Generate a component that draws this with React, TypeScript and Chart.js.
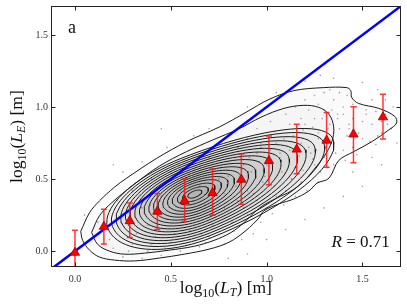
import React, { useEffect, useRef } from 'react';
import { Chart, registerables } from 'chart.js';

Chart.register(...registerables);

// axis setup
const xTickValues = [0, 0.5, 1.0, 1.5];
const yTickValues = [0, 0.5, 1.0, 1.5];
const xLimits = [-0.125, 1.7];
const yLimits = [-0.11, 1.7];

// binned means with error bars
const binX = [0.0, 0.151, 0.286, 0.43, 0.572, 0.718, 0.868, 1.012, 1.157, 1.313, 1.453, 1.607];
const binY = [-0.01, 0.17, 0.21, 0.275, 0.35, 0.405, 0.497, 0.627, 0.706, 0.768, 0.811, 0.93];
const binHigh = [0.145, 0.29, 0.335, 0.40, 0.50, 0.57, 0.675, 0.80, 0.88, 0.962, 1.003, 1.089];
const binLow = [-0.16, 0.05, 0.095, 0.15, 0.205, 0.25, 0.325, 0.46, 0.538, 0.583, 0.613, 0.779];

// 1:1 line
const identityLine = [-0.3, 1.9];

// density contours: inner levels as egg-shaped ellipses (data units)
const contourCenter = [0.6225, 0.3964];
const contourMajorAxis = [0.0482, 0.0256];
const contourMinorAxis = [0.0195, -0.0634];
const contourBack = [0.7, 1.25, 1.8, 2.35, 2.85, 3.35, 3.85, 4.35, 4.85, 5.35, 5.85, 6.35, 6.85, 7.35, 7.85, 8.35, 8.85, 9.35];
const contourFront = [0.8, 1.5, 2.2, 2.9, 3.6, 4.3, 5.0, 5.8, 6.6, 7.5, 8.4, 9.3, 10.2, 11.1, 12.0, 13.0, 14.0, 15.0];
const contourWidthDown = [0.35, 0.65, 0.95, 1.25, 1.5, 1.75, 2.0, 2.25, 2.5, 2.75, 3.0, 3.25, 3.5, 3.75, 4.0, 4.25, 4.5, 4.75];
const contourWidthUp = [0.3, 0.55, 0.8, 1.05, 1.25, 1.45, 1.65, 1.85, 2.05, 2.25, 2.45, 2.65, 2.85, 3.05, 3.25, 3.45, 3.65, 3.85];

// second-outermost contour
const secondContourX = [0.087, 0.128, 0.191, 0.310, 0.440, 0.581, 0.716, 0.857, 0.971, 1.091, 1.194, 1.272, 1.325, 1.350, 1.340, 1.299, 1.247, 1.194, 1.127, 1.054, 0.986, 0.934, 0.882, 0.815, 0.726, 0.622, 0.492, 0.362, 0.258, 0.180, 0.118, 0.087];
const secondContourY = [0.130, 0.246, 0.335, 0.465, 0.590, 0.690, 0.770, 0.850, 0.930, 0.991, 1.012, 0.998, 0.950, 0.861, 0.759, 0.656, 0.567, 0.485, 0.417, 0.369, 0.321, 0.267, 0.198, 0.130, 0.075, 0.034, 0.007, -0.014, -0.021, 0.000, 0.048, 0.130];

// outermost contour
const outerContourX = [0.030, 0.076, 0.128, 0.206, 0.269, 0.425, 0.581, 0.752, 0.893, 1.012, 1.142, 1.298, 1.418, 1.439, 1.444, 1.480, 1.585, 1.668, 1.678, 1.637, 1.548, 1.454, 1.376, 1.325, 1.263, 1.220, 1.142, 1.064, 0.986, 0.961, 0.893, 0.804, 0.700, 0.570, 0.440, 0.310, 0.206, 0.128, 0.076, 0.040, 0.030];
const outerContourY = [0.137, 0.267, 0.349, 0.444, 0.506, 0.643, 0.759, 0.861, 0.964, 1.053, 1.114, 1.135, 1.135, 1.114, 1.066, 1.025, 0.991, 0.936, 0.889, 0.841, 0.759, 0.690, 0.629, 0.506, 0.472, 0.417, 0.362, 0.328, 0.280, 0.232, 0.144, 0.062, 0.014, -0.021, -0.048, -0.068, -0.062, -0.041, 0.007, 0.075, 0.137];

// individual sample points (sparse subset)
const sampleX = [0.35, 0.25, 0.48, 0.62, 0.70, 0.90, 1.05, 1.20, 1.28, 1.35, 1.50, 1.58, 1.62, 1.66, 1.55, 1.45,
  1.10, 1.15, 1.20, 1.25, 1.30, 1.35, 1.30, 1.25, 1.20, 1.40, 1.45, 1.50, 1.55, 1.60, 1.62, 1.65, 1.58, 1.50, 1.42, 1.38,
  1.35, 1.40, 1.45, 1.30, 1.35, 1.28, 1.22, 1.25, 1.18, 1.10, 1.05, 1.15, 1.08, 1.12, 1.05, 1.00, 0.95, 1.02, 0.90, 0.85,
  0.95, 1.00, 0.92, 0.98, 0.90, 0.85, 0.95, 1.00, 0.90, 0.82, 0.75, 0.70, 0.78, 0.65, 0.55, 0.45, 0.35, 0.25, 0.60, 0.50,
  0.40, 0.30, 0.20, 0.15, 0.10, 0.12, 0.18, 0.22, 0.30, 0.40, 0.50, 0.60, 0.70, 0.80, 0.75, 0.65, 0.55, 0.45, 0.35, 0.28,
  0.38, 0.48, 0.58, 0.68, 0.78, 0.72, 0.62, 0.52, 0.42, 0.32, 0.00, 0.05, 0.20, 0.45, 1.70, 1.68, 1.60, 1.50, 1.40, 1.30,
  1.20, 1.10, 1.00, 0.90, 0.80, 1.45, 1.55, 1.33, 1.43, 1.52, 1.18, 1.27, 0.88, 0.97, 1.07, 1.13, 1.23, 1.37, 1.47, 1.57,
  1.12, 1.18, 1.22, 1.27, 1.33, 1.38, 1.42, 1.47, 1.52, 1.57, 1.63, 1.60, 1.54, 1.48, 1.43, 1.37, 1.32, 1.27, 1.22, 1.17,
  1.12, 1.07, 1.02, 0.97, 1.04, 1.09, 1.14, 1.19, 1.24, 1.29, 1.34, 1.40, 1.26, 1.31, 1.36, 1.41, 1.32, 1.27, 1.21, 1.15,
  1.09, 1.03, 0.97, 0.93, 0.87, 0.83, 0.88, 0.93, 0.99, 1.04, 1.13, 1.19, 1.24, 0.96, 0.91, 0.86, 0.80, 0.76, 0.84, 0.78,
  0.72, 0.66, 0.60, 0.68, 0.58, 0.47, 0.38, 0.28, 0.18, 0.14];
const sampleY = [0.62, 0.55, 0.72, 0.80, 0.85, 1.00, 1.10, 1.18, 1.22, 1.20, 1.17, 1.12, 1.05, 1.00, 1.05, 1.02,
  0.95, 1.00, 1.05, 1.08, 1.10, 1.05, 0.98, 0.92, 0.88, 0.95, 0.92, 0.90, 0.88, 0.90, 0.95, 0.85, 0.80, 0.78, 0.80, 0.85,
  0.75, 0.70, 0.72, 0.65, 0.60, 0.55, 0.52, 0.60, 0.48, 0.42, 0.38, 0.58, 0.55, 0.70, 0.75, 0.80, 0.85, 0.90, 0.78, 0.72,
  0.68, 0.60, 0.55, 0.48, 0.42, 0.35, 0.35, 0.30, 0.25, 0.20, 0.15, 0.10, 0.05, 0.03, 0.00, -0.03, -0.05, -0.04, 0.08, 0.06,
  0.05, 0.05, 0.02, 0.05, 0.10, 0.20, 0.28, 0.35, 0.42, 0.50, 0.55, 0.60, 0.65, 0.62, 0.50, 0.45, 0.42, 0.38, 0.30, 0.22,
  0.18, 0.22, 0.28, 0.32, 0.40, 0.25, 0.18, 0.12, 0.10, 0.12, 0.05, 0.25, 0.60, 0.85, 1.05, 0.75, 0.60, 0.45, 0.38, 0.30,
  0.22, 0.15, 0.08, -0.02, -0.05, 0.55, 0.65, 0.88, 0.85, 0.98, 0.75, 0.82, 0.60, 0.72, 0.65, 0.50, 0.68, 0.95, 0.67, 0.74,
  0.88, 0.92, 0.98, 1.02, 1.12, 1.10, 1.08, 1.00, 0.95, 0.97, 0.88, 0.82, 0.76, 0.82, 0.88, 0.92, 0.85, 0.78, 0.72, 0.66,
  0.62, 0.68, 0.70, 0.75, 0.83, 0.78, 0.80, 0.84, 0.86, 0.92, 0.98, 1.00, 0.70, 0.72, 0.68, 0.63, 0.58, 0.48, 0.42, 0.38,
  0.32, 0.26, 0.20, 0.12, 0.08, 0.14, 0.30, 0.40, 0.52, 0.45, 0.50, 0.56, 0.64, 0.62, 0.65, 0.58, 0.52, 0.58, 0.45, 0.30,
  0.18, 0.12, 0.14, 0.06, 0.04, 0.02, 0.00, 0.00, 0.08, 0.14];

const FONT = "'Liberation Serif', 'DejaVu Serif', serif";

type Seg = { t: string; size: number; italic?: boolean; dy?: number };

function drawRich(ctx: CanvasRenderingContext2D, segs: Seg[], x: number, y: number, align: 'center' | 'right' | 'left') {
  let w = 0;
  for (const s of segs) {
    ctx.font = `${s.italic ? 'italic ' : ''}${s.size}px ${FONT}`;
    w += ctx.measureText(s.t).width;
  }
  let cx = align === 'center' ? x - w / 2 : align === 'right' ? x - w : x;
  ctx.textAlign = 'left';
  ctx.textBaseline = 'alphabetic';
  for (const s of segs) {
    ctx.font = `${s.italic ? 'italic ' : ''}${s.size}px ${FONT}`;
    ctx.fillText(s.t, cx, y + (s.dy || 0));
    cx += ctx.measureText(s.t).width;
  }
}

function titleSegs(sub: string): Seg[] {
  return [
    { t: 'log', size: 17.5 },
    { t: '10', size: 12, dy: 4 },
    { t: '(', size: 17.5 },
    { t: 'L', size: 17.5, italic: true },
    { t: sub, size: 12, italic: true, dy: 3 },
    { t: ') [m]', size: 17.5 },
  ];
}

const decorPlugin = {
  id: 'decor',
  beforeDatasetDraw(chart: any, args: any) {
    if (args.index !== 0) return;
    const { ctx, chartArea: a, scales } = chart;
    const xs = scales.x, ys = scales.y;
    ctx.save();
    ctx.beginPath();
    ctx.rect(a.left, a.top, a.right - a.left, a.bottom - a.top);
    ctx.clip();
    ctx.strokeStyle = 'rgba(255,20,20,0.85)';
    ctx.lineWidth = 1.5;
    for (let i = 0; i < binX.length; i++) {
      const px = xs.getPixelForValue(binX[i]);
      const y1 = ys.getPixelForValue(binLow[i]);
      const y2 = ys.getPixelForValue(binHigh[i]);
      ctx.beginPath();
      ctx.moveTo(px, y1);
      ctx.lineTo(px, y2);
      ctx.moveTo(px - 3, y1);
      ctx.lineTo(px + 3, y1);
      ctx.moveTo(px - 3, y2);
      ctx.lineTo(px + 3, y2);
      ctx.stroke();
    }
    ctx.restore();
  },
  afterDraw(chart: any) {
    const { ctx, chartArea: a, scales } = chart;
    const xs = scales.x, ys = scales.y;
    ctx.save();
    ctx.strokeStyle = '#222';
    ctx.lineWidth = 1;
    const l = Math.round(a.left) + 0.5, r = Math.round(a.right) - 0.5;
    const t = Math.round(a.top) + 0.5, b = Math.round(a.bottom) - 0.5;
    ctx.strokeRect(l, t, r - l, b - t);
    ctx.beginPath();
    for (const v of xTickValues) {
      const px = Math.round(xs.getPixelForValue(v)) + 0.5;
      ctx.moveTo(px, b); ctx.lineTo(px, b - 4);
      ctx.moveTo(px, t); ctx.lineTo(px, t + 4);
    }
    for (const v of yTickValues) {
      const py = Math.round(ys.getPixelForValue(v)) + 0.5;
      ctx.moveTo(l, py); ctx.lineTo(l + 4, py);
      ctx.moveTo(r, py); ctx.lineTo(r - 4, py);
    }
    ctx.stroke();
    ctx.fillStyle = '#111';
    drawRich(ctx, [{ t: 'a', size: 18 }], a.left + 17, a.top + 27, 'left');
    drawRich(ctx, [{ t: 'R', size: 17, italic: true }, { t: ' = 0.71', size: 17 }], a.right - 11, a.bottom - 20, 'right');
    drawRich(ctx, titleSegs('T'), (a.left + a.right) / 2, a.bottom + 26, 'center');
    ctx.translate(22, (a.top + a.bottom) / 2);
    ctx.rotate(-Math.PI / 2);
    drawRich(ctx, titleSegs('E'), 0, 0, 'center');
    ctx.restore();
  },
};

function buildContours() {
  const sets: { x: number; y: number }[][] = [];
  for (let i = 0; i < contourWidthDown.length; i++) {
    const pts: { x: number; y: number }[] = [];
    const n = 80;
    for (let k = 0; k <= n; k++) {
      const s = (k / n) * Math.PI * 2;
      const c = Math.cos(s), sn = Math.sin(s);
      const a = c >= 0 ? contourFront[i] : contourBack[i];
      const w = sn >= 0 ? contourWidthDown[i] : contourWidthUp[i];
      pts.push({
        x: contourCenter[0] + contourMajorAxis[0] * a * c + contourMinorAxis[0] * w * sn,
        y: contourCenter[1] + contourMajorAxis[1] * a * c + contourMinorAxis[1] * w * sn,
      });
    }
    sets.push(pts);
  }
  sets.push(secondContourX.map((x, i) => ({ x, y: secondContourY[i] })));
  sets.push(outerContourX.map((x, i) => ({ x, y: outerContourY[i] })));
  return sets;
}

export default function App() {
  const ref = useRef<HTMLCanvasElement | null>(null);
  useEffect(() => {
    if (!ref.current) return;
    const contours = buildContours();
    const nEllipse = contourWidthDown.length;
    const contourSets = contours.map((pts, i) => ({
      type: 'scatter' as const,
      data: pts,
      showLine: true,
      borderColor: '#1a1a1a',
      borderWidth: 1,
      pointRadius: 0,
      tension: i >= nEllipse ? 0.35 : 0,
      fill: 'shape' as any,
      backgroundColor: 'rgba(110,110,110,0.032)',
    }));
    const chart = new Chart(ref.current, {
      type: 'scatter',
      data: {
        datasets: [
          {
            data: binX.map((x, i) => ({ x, y: binY[i] })),
            pointStyle: 'triangle',
            pointRadius: 5.4,
            backgroundColor: '#ff0000',
            borderColor: '#a00000',
            borderWidth: 0.8,
          },
          {
            data: identityLine.map((v) => ({ x: v, y: v })),
            showLine: true,
            borderColor: '#0000ff',
            borderWidth: 2.5,
            pointRadius: 0,
          },
          ...contourSets,
          {
            data: sampleX.map((x, i) => ({ x, y: sampleY[i] })),
            pointRadius: 0.8,
            borderWidth: 0,
            backgroundColor: 'rgba(120,120,120,0.7)',
          },
        ] as any,
      },
      options: {
        animation: false,
        responsive: false,
        events: [],
        layout: { padding: { top: 3, right: 4, left: 0, bottom: 0 } },
        plugins: { legend: { display: false }, tooltip: { enabled: false } },
        scales: {
          x: {
            type: 'linear',
            min: xLimits[0],
            max: xLimits[1],
            afterBuildTicks: (s: any) => { s.ticks = xTickValues.map((value) => ({ value })); },
            afterFit: (s: any) => { s.height = 38; s.paddingLeft = 0; s.paddingRight = 0; },
            grid: { display: false, drawTicks: false },
            border: { display: false },
            ticks: {
              padding: 6,
              color: '#333',
              font: { family: FONT, size: 10 },
              callback: (v: any) => Number(v).toFixed(1),
            },
          },
          y: {
            type: 'linear',
            min: yLimits[0],
            max: yLimits[1],
            afterBuildTicks: (s: any) => { s.ticks = yTickValues.map((value) => ({ value })); },
            afterFit: (s: any) => { s.width = 51; s.paddingTop = 0; s.paddingBottom = 0; },
            grid: { display: false, drawTicks: false },
            border: { display: false },
            ticks: {
              padding: 3,
              color: '#333',
              font: { family: FONT, size: 10 },
              callback: (v: any) => Number(v).toFixed(1),
            },
          },
        },
      },
      plugins: [decorPlugin],
    });
    return () => chart.destroy();
  }, []);
  return (
    <div style={{ position: 'absolute', left: 0, top: 0, width: 407, height: 305, background: '#fff' }}>
      <canvas ref={ref} width={407} height={305} style={{ display: 'block' }} />
    </div>
  );
}
